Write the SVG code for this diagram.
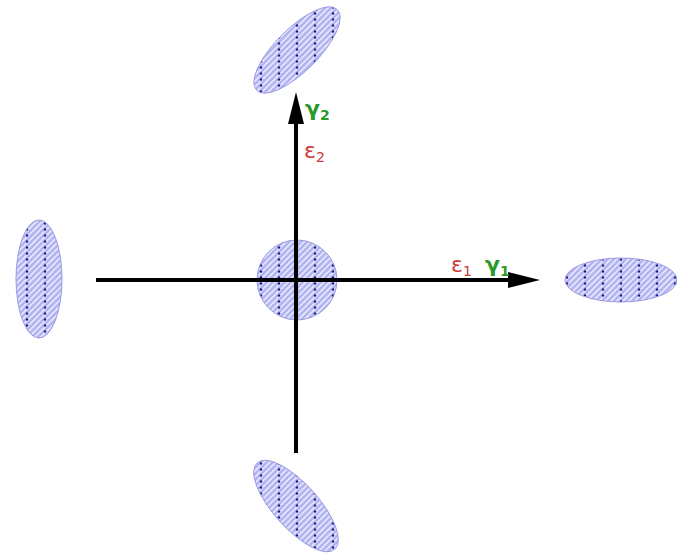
<svg xmlns="http://www.w3.org/2000/svg" width="677" height="554" viewBox="0 0 677 554">
<defs>
<pattern id="hatch" width="18" height="18" patternUnits="userSpaceOnUse">
<rect width="18" height="18" fill="#b2b4f2"/>
<path d="M-1 1 L1 -1 M-1 7 L7 -1 M-1 13 L13 -1 M-1 19 L19 -1 M5 19 L19 5 M11 19 L19 11 M17 19 L19 17" stroke="#e6e6fc" stroke-width="1.6"/>
<circle cx="9" cy="1.5" r="1.2" fill="#1c1c88"/>
<circle cx="9" cy="7.5" r="1.2" fill="#1c1c88"/>
<circle cx="9" cy="13.5" r="1.2" fill="#1c1c88"/>
</pattern>
<style>
.blob{fill:url(#hatch);stroke:#9a9ae0;stroke-width:1}
.axis{stroke:#000;stroke-width:4;fill:none}
.g{font-family:"DejaVu Sans",sans-serif;font-weight:bold;fill:#2a9a2a;font-size:22px}
.e{font-family:"DejaVu Sans",sans-serif;fill:#d03838;font-size:22px}
.sub{font-size:14px}
</style>
</defs>
<rect width="677" height="554" fill="#fff"/>
<g id="center"><circle class="blob" cx="297" cy="280" r="40"/></g>
<g id="top"><path class="blob" d="M256.7 90.3 A57 21 -45 1 1 337.3 9.7 A57 21 -45 1 1 256.7 90.3 Z"/></g>
<g id="bottom"><path class="blob" d="M257.2 462.9 A58 22 48 1 1 334.8 549.1 A58 22 48 1 1 257.2 462.9 Z"/></g>
<g id="left"><ellipse class="blob" cx="39" cy="279" rx="23" ry="59"/></g>
<g id="right"><ellipse class="blob" cx="621" cy="280" rx="56" ry="22"/></g>
<g id="connectors">
<line class="axis" x1="96" y1="280" x2="512" y2="280"/>
<path d="M508 272 L540 280 L508 288 Z" fill="#000"/>
<line class="axis" x1="296" y1="453" x2="296" y2="120"/>
<path d="M288 124 L296 92 L304 124 Z" fill="#000"/>
</g>
<g id="labels">
<text class="g" x="305" y="116">γ<tspan class="sub" dy="4">2</tspan></text>
<text class="e" x="304" y="158">ε<tspan class="sub" dy="4">2</tspan></text>
<text class="e" x="451" y="272">ε<tspan class="sub" dy="4">1</tspan></text>
<text class="g" x="485" y="272">γ<tspan class="sub" dy="4">1</tspan></text>
</g>
</svg>
